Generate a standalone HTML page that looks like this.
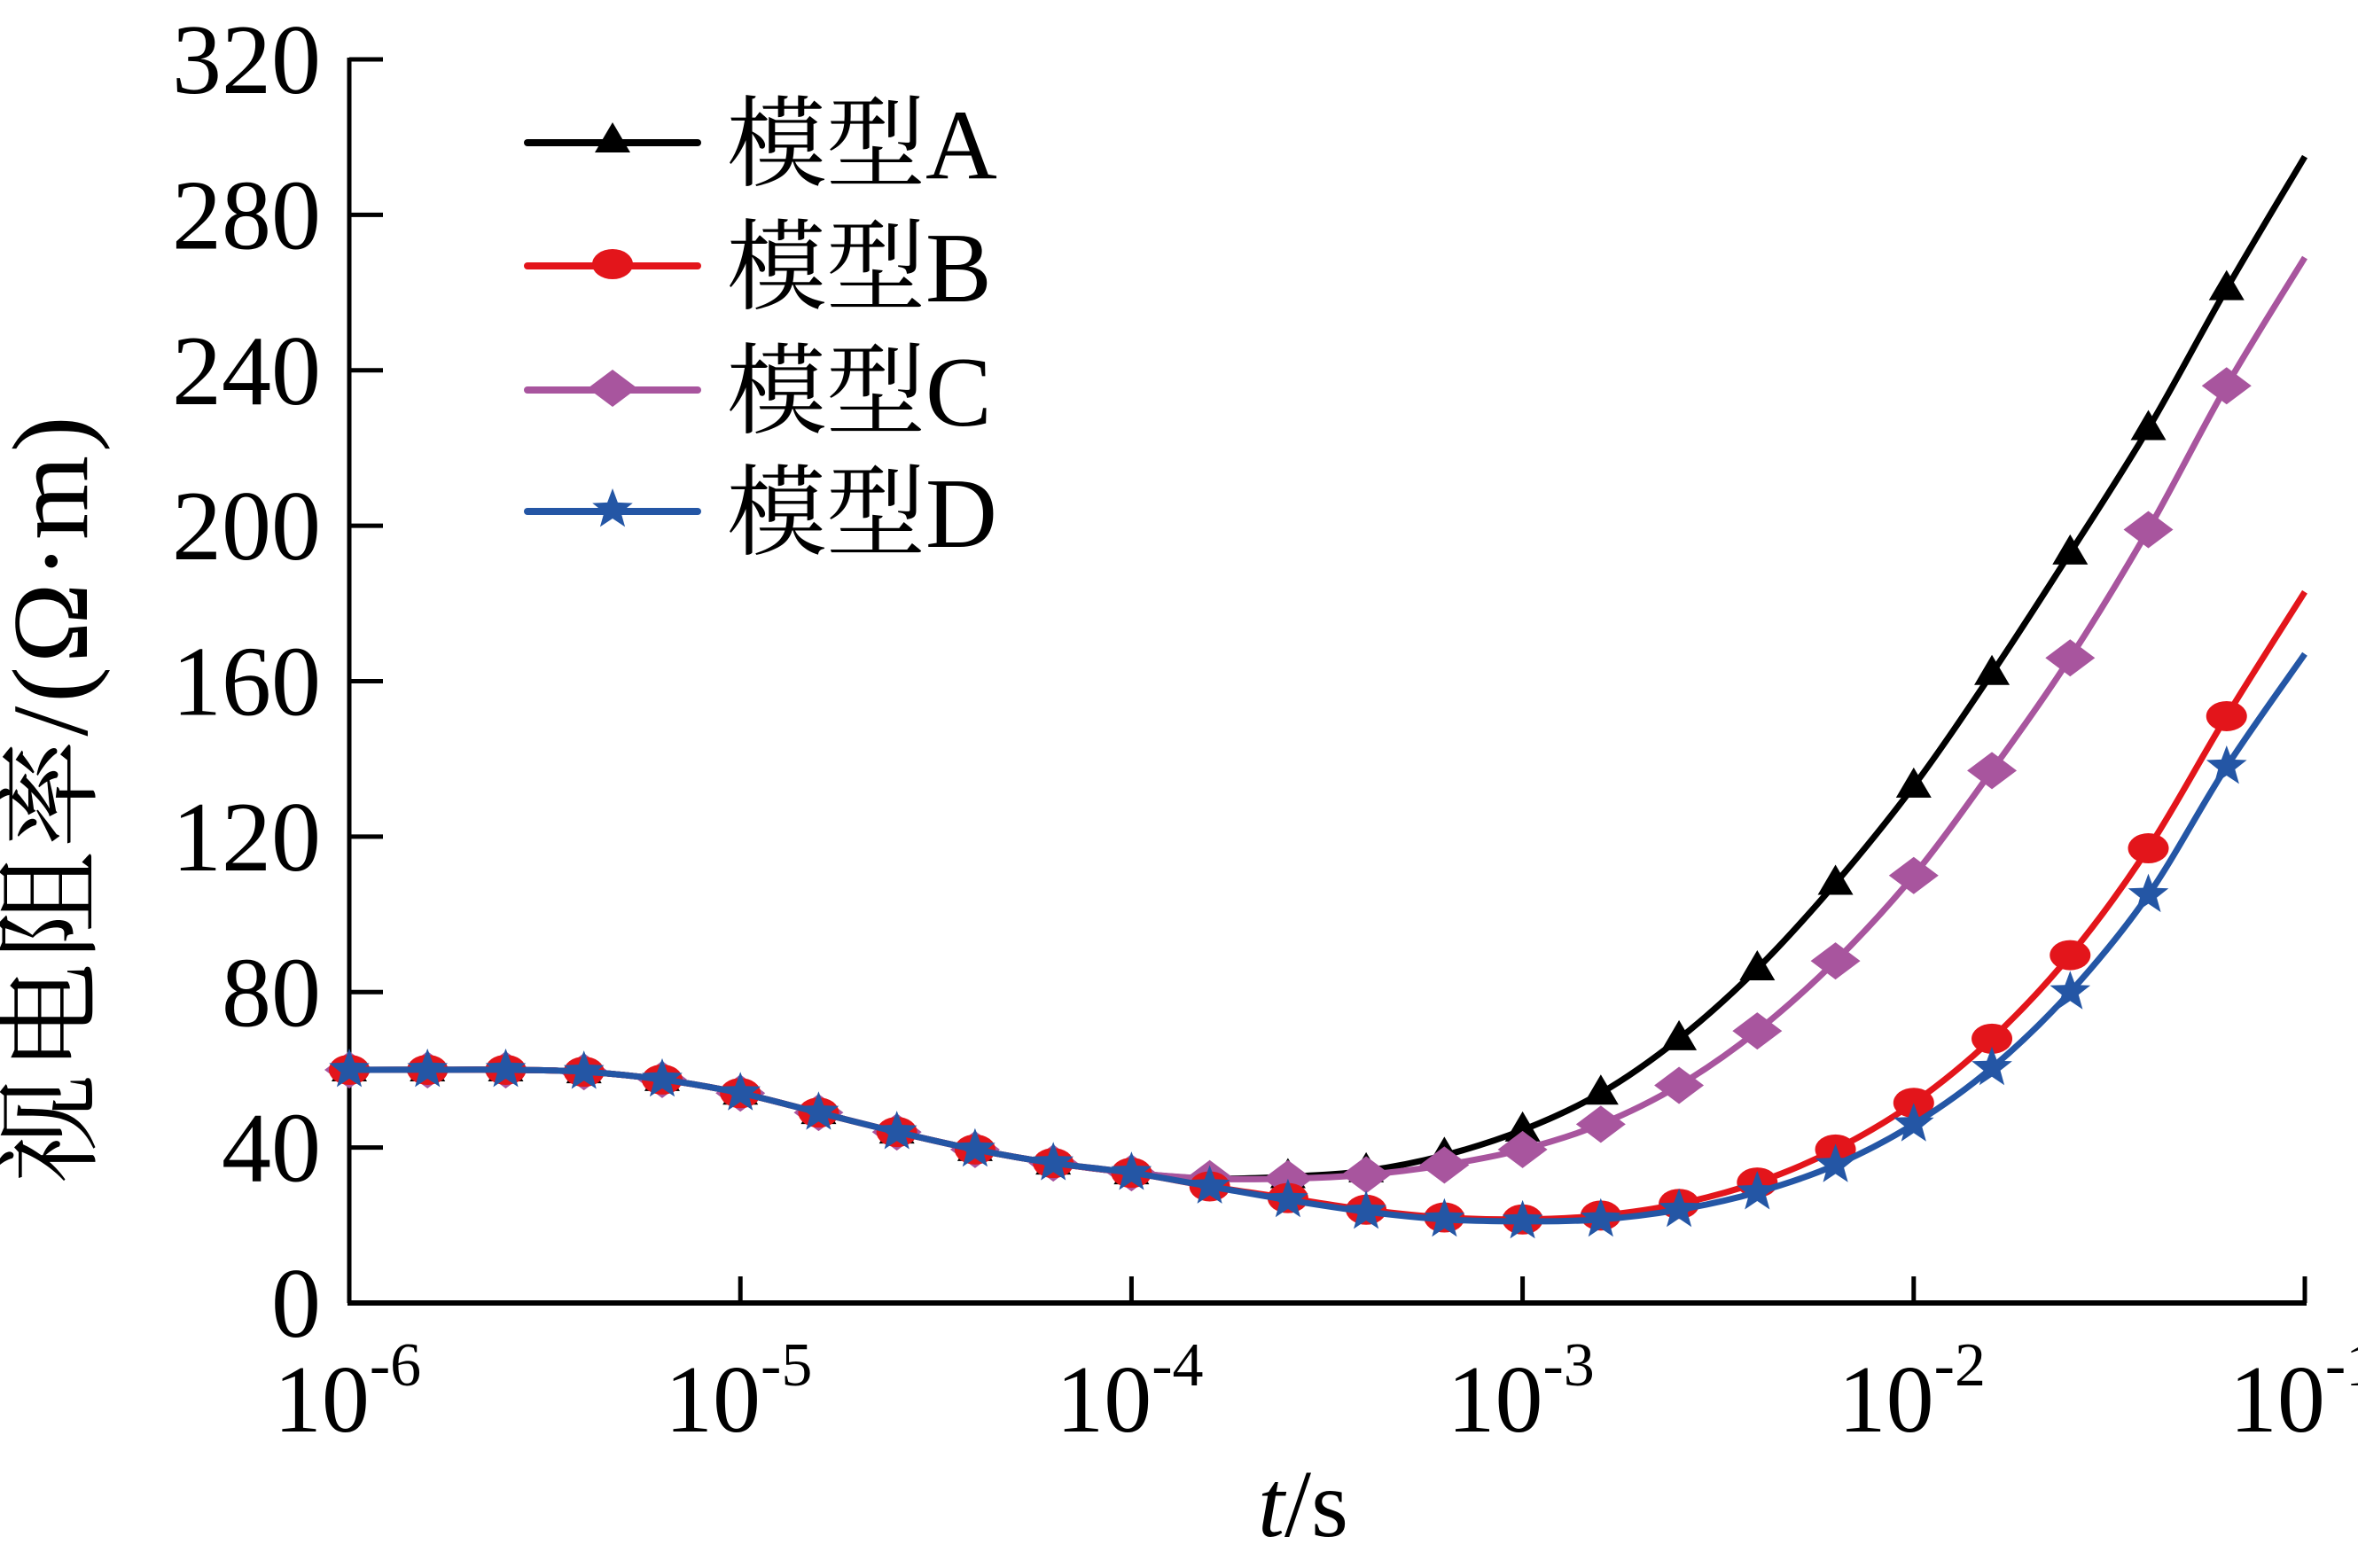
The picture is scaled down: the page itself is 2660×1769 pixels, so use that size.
<!DOCTYPE html>
<html><head><meta charset="utf-8"><style>
body{margin:0;background:#fff}
svg{display:block}
text{font-family:"Liberation Serif","Noto Serif CJK SC",serif;fill:#000}
</style></head><body>
<svg id="chart" width="2660" height="1769" viewBox="0 0 2660 1769" xmlns="http://www.w3.org/2000/svg">
<g id="axes"></g>
<g id="series"></g>
<g id="legend"></g>
</svg>
<script>
const logT = [-6,-5.8,-5.6,-5.4,-5.2,-5,-4.8,-4.6,-4.4,-4.2,-4,-3.8,-3.6,-3.4,-3.2,-3,-2.8,-2.6,-2.4,-2.2,-2,-1.8,-1.6,-1.4,-1.2,-1];
const common = [60,60,60,59.5,57.5,54,49,44,39.5,36,33.5];
const seriesA = common.concat([32,32.5,34,38,44.5,54,68,86,108,133,162,193,225,261,295]);
const seriesB = common.concat([30,27,24,22,21.5,22.5,25.5,31,39.5,51.5,68,89.5,117,151,183]);
const seriesC = common.concat([32,32,33,35.5,39.5,46,56,70,88,110,137,166,199,236,269]);
const seriesD = common.concat([30,26.5,23.5,21.5,21,21.5,24,28.5,35.5,46,60.5,80,105,138,167]);
const yTicks = [0,40,80,120,160,200,240,280,320];
const xTicks = [-6,-5,-4,-3,-2,-1];
const legendLabels = ["模型A","模型B","模型C","模型D"];

const NS="http://www.w3.org/2000/svg";
const X0=394,X1=2600,Y0=1470,Y1=67;
const xs=v=>X0+(v+6)/5*(X1-X0);
const ys=v=>Y0-v/320*(Y0-Y1);
function mk(tag,attrs,parent){const e=document.createElementNS(NS,tag);for(const k in attrs)e.setAttribute(k,attrs[k]);parent.appendChild(e);return e;}
const axes=document.getElementById('axes');
const yAxis=mk('line',{x1:X0,y1:Y0,x2:X0,y2:Y1-2,stroke:'#000','stroke-width':5},axes);


const xAxis=mk('line',{x1:X0-2,y1:Y0,x2:X1+2,y2:Y0,stroke:'#000','stroke-width':6},axes);


yTicks.forEach(v=>{
  const t=mk('line',{x1:X0,y1:ys(v),x2:X0+38,y2:ys(v),stroke:'#000','stroke-width':5},axes);
  
  
  const l=mk('text',{x:362,y:ys(v)+38,'text-anchor':'end','font-size':112},axes);
  l.textContent=v;
  
  
});
xTicks.forEach(v=>{
  const t=mk('line',{x1:xs(v),y1:Y0,x2:xs(v),y2:Y0-30,stroke:'#000','stroke-width':5},axes);
  
  
  const l=mk('text',{x:xs(v)-2,y:1615,'text-anchor':'middle','font-size':108},axes);
  
  
  const a=mk('tspan',{},l);a.textContent='10';
  const b=mk('tspan',{dy:-52,'font-size':70},l);b.textContent=String(v);
});
const yt=mk('text',{x:0,y:0,'text-anchor':'middle','font-size':122,'letter-spacing':4,transform:'translate(98,900) rotate(-90)'},axes);
yt.textContent='视电阻率/(Ω·m)';


const xt=mk('text',{x:1470,y:1733,'text-anchor':'middle','font-size':108},axes);


const xti=mk('tspan',{'font-style':'italic'},xt);xti.textContent='t';
const xts=mk('tspan',{},xt);xts.textContent='/s';

function marker(type,cx,cy,color,parent){
  let e;
  if(type==='tri'){e=mk('polygon',{points:`${cx},${cy-21} ${cx-20},${cy+13} ${cx+20},${cy+13}`,fill:color},parent);}
  else if(type==='circ'){e=mk('ellipse',{cx,cy,rx:23,ry:17,fill:color},parent);}
  else if(type==='dia'){e=mk('polygon',{points:`${cx},${cy-21} ${cx+28},${cy} ${cx},${cy+21} ${cx-28},${cy}`,fill:color},parent);}
  else{let p=[];for(let i=0;i<10;i++){const r=i%2?10:24;const a=-Math.PI/2+i*Math.PI/5;p.push((cx+r*Math.cos(a)).toFixed(1)+','+(cy+r*Math.sin(a)).toFixed(1));}
    e=mk('polygon',{points:p.join(' '),fill:color},parent);}
  return e;
}
function smoothPath(pts){
  let d=`M${pts[0][0]},${pts[0][1]}`;
  for(let i=0;i<pts.length-1;i++){
    const p0=pts[Math.max(0,i-1)],p1=pts[i],p2=pts[i+1],p3=pts[Math.min(pts.length-1,i+2)];
    const c1=[p1[0]+(p2[0]-p0[0])/6,p1[1]+(p2[1]-p0[1])/6];
    const c2=[p2[0]-(p3[0]-p1[0])/6,p2[1]-(p3[1]-p1[1])/6];
    d+=` C${c1[0].toFixed(1)},${c1[1].toFixed(1)} ${c2[0].toFixed(1)},${c2[1].toFixed(1)} ${p2[0].toFixed(1)},${p2[1].toFixed(1)}`;
  }
  return d;
}
const defs=[
  {data:seriesA,color:'#000000',m:'tri',name:'series-model-a'},
  {data:seriesC,color:'#a8559e',m:'dia',name:'series-model-c'},
  {data:seriesB,color:'#e3151b',m:'circ',name:'series-model-b'},
  {data:seriesD,color:'#2456a5',m:'star',name:'series-model-d'}
];
const sg=document.getElementById('series');
defs.forEach(s=>{
  const g=mk('g',{},sg);
  
  
  const pts=logT.map((t,i)=>[xs(t),ys(s.data[i])]);
  const p=mk('path',{d:smoothPath(pts),fill:'none',stroke:s.color,'stroke-width':7},g);
  
  
  pts.slice(0,pts.length-1).forEach(pt=>{
    const e=marker(s.m,pt[0],pt[1],s.color,g);
    
    
  });
});
const lg=document.getElementById('legend');
const lcolors=['#000000','#e3151b','#a8559e','#2456a5'];
const lm=['tri','circ','dia','star'];
const rowY=[161,300,440,577];
legendLabels.forEach((lab,i)=>{
  const g=mk('g',{},lg);
  
  
  mk('line',{x1:595,y1:rowY[i],x2:787,y2:rowY[i],stroke:lcolors[i],'stroke-width':8,'stroke-linecap':'round'},g);
  marker(lm[i],691,rowY[i]-2,lcolors[i],g);
  const t=mk('text',{x:820,y:rowY[i]+40,'font-size':112},g);
  t.textContent=lab;
});
</script>
</body></html>
